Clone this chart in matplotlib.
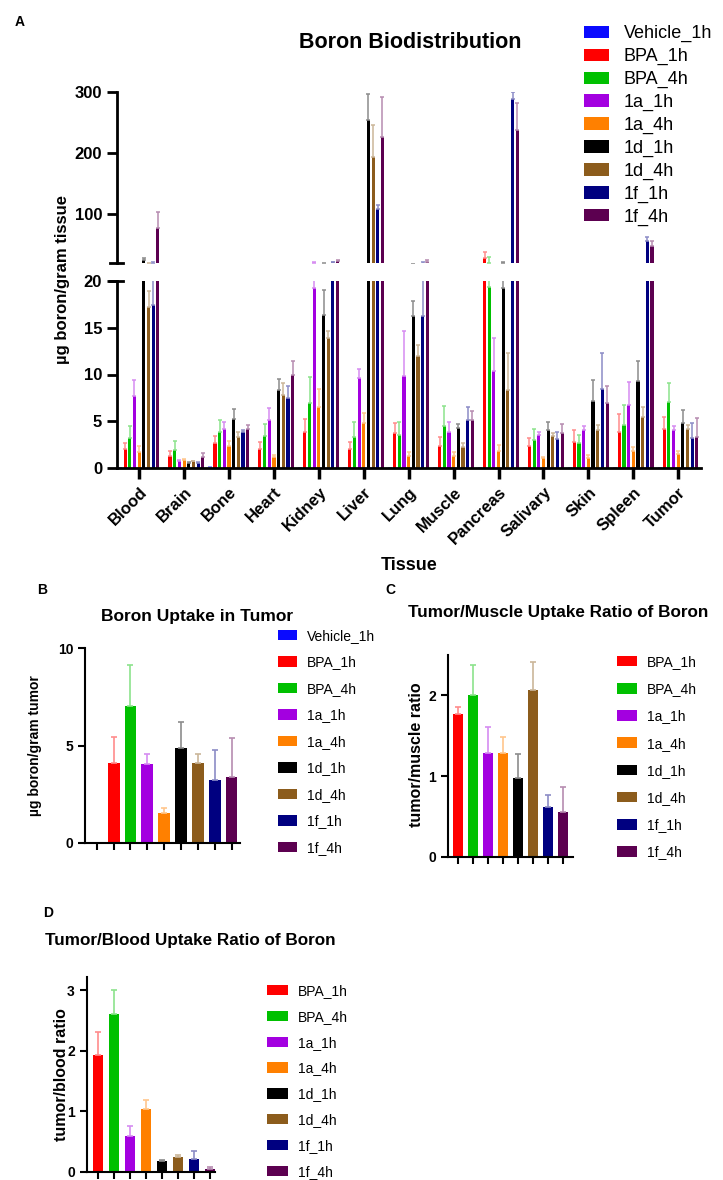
import matplotlib.pyplot as plt
from matplotlib.patches import Patch
from matplotlib.colors import to_rgba
import numpy as np

plt.rcParams['font.family'] = ['Liberation Sans', 'DejaVu Sans']

W, H = 723, 1180

tissues = ['Blood', 'Brain', 'Bone', 'Heart', 'Kidney', 'Liver', 'Lung',
           'Muscle', 'Pancreas', 'Salivary', 'Skin', 'Spleen', 'Tumor']
groups = ['Vehicle_1h', 'BPA_1h', 'BPA_4h', '1a_1h', '1a_4h',
          '1d_1h', '1d_4h', '1f_1h', '1f_4h']
colors = ['#0a0aff', '#ff0000', '#00c000', '#a300e0', '#ff8000',
          '#000000', '#8c5c1c', '#000080', '#5c0050']

# boron (ug/g tissue), one list per group, in tissue order
vehicle_1h = [0, 0, 0.15, 0, 0, 0, 0, 0, 0, 0, 0, 0, 0]
vehicle_1h_sd = [0] * 13
bpa_1h = [2.06, 1.25, 2.65, 2.0, 3.8, 2.0, 3.7, 2.4, 28, 2.4, 2.75, 3.85, 4.12]
bpa_1h_sd = [0.6, 0.55, 0.8, 0.8, 1.4, 0.8, 1.1, 0.9, 10, 0.8, 1.35, 1.9, 1.3]
bpa_4h = [3.2, 1.95, 3.8, 3.4, 6.9, 3.3, 3.55, 4.5, 19.4, 3.0, 2.65, 4.6, 7.04]
bpa_4h_sd = [1.24, 0.9, 1.35, 1.3, 2.8, 1.6, 1.35, 2.1, 10.6, 1.2, 0.9, 2.15, 2.07]
a1_1h = [7.74, 0.8, 4.2, 5.1, 19.2, 9.6, 9.8, 3.8, 10.4, 3.55, 4.1, 6.7, 4.04]
a1_1h_sd = [1.66, 0.1, 0.7, 1.3, 2.0, 1.0, 4.9, 1.1, 3.5, 0.35, 0.35, 2.5, 0.5]
a1_4h = [1.7, 0.9, 2.3, 1.2, 6.5, 4.8, 1.3, 1.3, 1.85, 1.05, 1.05, 1.8, 1.53]
a1_4h_sd = [0.6, 0.05, 0.55, 0.2, 1.9, 1.1, 0.4, 0.4, 0.65, 0.15, 0.35, 0.45, 0.29]
d1_1h = [25, 0.5, 5.2, 8.35, 16.4, 254, 16.3, 4.3, 19.2, 4.1, 7.2, 9.3, 4.86]
d1_1h_sd = [2.5, 0.1, 1.1, 1.15, 2.6, 43, 1.6, 0.4, 2.0, 0.8, 2.2, 2.1, 1.32]
d1_4h = [17.2, 0.7, 3.3, 7.8, 13.9, 194, 12.0, 2.2, 8.35, 3.4, 4.1, 5.5, 4.12]
d1_4h_sd = [1.7, 0.1, 0.6, 1.3, 0.8, 52, 1.2, 0.5, 3.95, 0.3, 0.5, 1.0, 0.43]
f1_1h = [17.4, 0.5, 3.9, 7.5, 21, 109, 16.3, 5.1, 288.5, 3.1, 8.5, 56, 3.24]
f1_1h_sd = [3.5, 0.1, 0.2, 1.3, 1.0, 6, 4.5, 1.4, 11, 0.7, 3.75, 6, 1.53]
f1_4h = [76.6, 1.2, 4.15, 9.9, 22.5, 227, 22, 5.15, 237.7, 3.7, 6.9, 48, 3.36]
f1_4h_sd = [27, 0.4, 0.45, 1.5, 2.5, 65, 3, 0.95, 45, 1.0, 1.9, 7, 2.01]

means = [vehicle_1h, bpa_1h, bpa_4h, a1_1h, a1_4h, d1_1h, d1_4h, f1_1h, f1_4h]
sds = [vehicle_1h_sd, bpa_1h_sd, bpa_4h_sd, a1_1h_sd, a1_4h_sd,
       d1_1h_sd, d1_4h_sd, f1_1h_sd, f1_4h_sd]

# ratios (no vehicle group)
muscle_ratio = [1.77, 2.01, 1.28, 1.29, 0.97, 2.06, 0.62, 0.55]
muscle_ratio_sd = [0.09, 0.37, 0.33, 0.19, 0.30, 0.35, 0.15, 0.31]
blood_ratio = [1.93, 2.60, 0.59, 1.03, 0.18, 0.25, 0.21, 0.04]
blood_ratio_sd = [0.38, 0.40, 0.16, 0.16, 0.02, 0.03, 0.13, 0.03]


def light(c, f=0.55):
    r, g, b, _ = to_rgba(c)
    return (r + (1 - r) * f, g + (1 - g) * f, b + (1 - b) * f)


def rect(x0, y0, x1, y1):
    # pixel box (top-left origin) -> figure fraction
    return [x0 / W, 1 - y1 / H, (x1 - x0) / W, (y1 - y0) / H]


def ftext(x, y, s, **kw):
    fig.text(x / W, 1 - y / H, s, **kw)


def style_small(ax, n):
    for s in ('top', 'right'):
        ax.spines[s].set_visible(False)
    for s in ('left', 'bottom'):
        ax.spines[s].set_linewidth(1.5)
    ax.set_xticks(np.arange(n))
    ax.set_xticklabels([])
    ax.tick_params(axis='both', width=1.5, length=5, labelsize=10)
    for lab in ax.get_yticklabels():
        lab.set_fontweight('bold')


fig = plt.figure(figsize=(W / 100, H / 100), dpi=100)

# ---------------- A: broken axis ----------------
ax_top = fig.add_axes(rect(116.7, 92, 700.7, 262.8))
ax_bot = fig.add_axes(rect(116.7, 281, 700.7, 468))

x = np.arange(len(tissues))
slot = 0.104
for ax in (ax_top, ax_bot):
    for k, col in enumerate(colors):
        pos = x + (k - 4) * slot
        ax.bar(pos, means[k], width=0.07, color=col)
        ax.errorbar(pos, means[k], yerr=[np.zeros(len(tissues)), sds[k]],
                    fmt='none', ecolor=light(col), elinewidth=1.1,
                    capsize=1.2, capthick=1.1)
    ax.set_xlim(-0.5, 12.5)
    for s in ('top', 'right'):
        ax.spines[s].set_visible(False)
    ax.spines['left'].set_linewidth(2)
    ax.spines['bottom'].set_linewidth(2)
    ax.tick_params(axis='both', width=2, length=7, labelsize=12)

ax_top.set_ylim(20, 300)
ax_top.set_yticks([100, 200, 300])
ax_top.spines['bottom'].set_visible(False)
ax_top.set_xticks([])
ax_top.plot([-0.011, 0.011], [0, 0], color='black', lw=2,
            transform=ax_top.transAxes, clip_on=False)

ax_bot.set_ylim(0, 20)
ax_bot.set_yticks([0, 5, 10, 15, 20])
ax_bot.set_xticks(x)
ax_bot.set_xticklabels(tissues, rotation=45, ha='right',
                       rotation_mode='anchor')
ax_bot.tick_params(axis='x', length=8, width=2.5, pad=4)
ax_bot.plot([-0.011, 0.011], [1, 1], color='black', lw=2,
            transform=ax_bot.transAxes, clip_on=False)
for ax in (ax_top, ax_bot):
    for lab in ax.get_xticklabels() + ax.get_yticklabels():
        lab.set_fontweight('bold')

ftext(20, 22, 'A', fontsize=10, fontweight='bold', ha='center', va='center')
ftext(410, 43, 'Boron Biodistribution', fontsize=15.5, fontweight='bold',
      ha='center', va='center')
ftext(62, 280, 'µg boron/gram tissue', fontsize=12, fontweight='bold',
      rotation=90, ha='center', va='center')
ftext(408.7, 565, 'Tissue', fontsize=13, fontweight='bold',
      ha='center', va='center')

handles = [Patch(facecolor=c) for c in colors]
fig.legend(handles, groups, loc='upper left',
           bbox_to_anchor=(584 / W, 1 - 25 / H), frameon=False,
           fontsize=13, handlelength=1.38, handleheight=0.66,
           handletextpad=0.83, labelspacing=0.32, borderpad=0,
           borderaxespad=0)

# ---------------- B: tumor uptake ----------------
ax_b = fig.add_axes(rect(85, 648, 240, 843))
tumor = [m[-1] for m in means]
tumor_sd = [s[-1] for s in sds]
xb = np.arange(len(groups))
ax_b.bar(xb, tumor, width=0.7, color=colors)
for k, col in enumerate(colors):
    ax_b.errorbar(xb[k], tumor[k], yerr=[[0], [tumor_sd[k]]], fmt='none',
                  ecolor=light(col), elinewidth=1.2, capsize=2.5, capthick=1.2)
ax_b.set_xlim(-0.7, 8.5)
ax_b.set_ylim(0, 10)
ax_b.set_yticks([0, 5, 10])
style_small(ax_b, len(groups))

ftext(42, 590, 'B', fontsize=10, fontweight='bold', ha='center', va='center')
ftext(196.7, 616.7, 'Boron Uptake in Tumor', fontsize=12.5,
      fontweight='bold', ha='center', va='center')
ftext(35, 746, 'µg boron/gram tumor', fontsize=10, fontweight='bold',
      rotation=90, ha='center', va='center')
fig.legend(handles, groups, loc='upper left',
           bbox_to_anchor=(278 / W, 1 - 629 / H), frameon=False,
           fontsize=10, handlelength=1.37, handleheight=0.79,
           handletextpad=0.72, labelspacing=0.9, borderpad=0,
           borderaxespad=0)

# ---------------- C: tumor/muscle ----------------
ax_c = fig.add_axes(rect(448, 655, 573, 856.7))
xc = np.arange(len(muscle_ratio))
ax_c.bar(xc, muscle_ratio, width=0.67, color=colors[1:])
for k, col in enumerate(colors[1:]):
    ax_c.errorbar(xc[k], muscle_ratio[k], yerr=[[0], [muscle_ratio_sd[k]]],
                  fmt='none', ecolor=light(col), elinewidth=1.2,
                  capsize=2.5, capthick=1.2)
ax_c.set_xlim(-0.69, 7.65)
ax_c.set_ylim(0, 2.5)
ax_c.set_yticks([0, 1, 2])
style_small(ax_c, len(muscle_ratio))

ftext(390, 590, 'C', fontsize=10, fontweight='bold', ha='center', va='center')
ftext(558.5, 612, 'Tumor/Muscle Uptake Ratio of Boron', fontsize=12.3,
      fontweight='bold', ha='center', va='center')
ftext(417, 755, 'tumor/muscle ratio', fontsize=11.5, fontweight='bold',
      rotation=90, ha='center', va='center')
fig.legend(handles[1:], groups[1:], loc='upper left',
           bbox_to_anchor=(617 / W, 1 - 655 / H), frameon=False,
           fontsize=10, handlelength=1.44, handleheight=0.79,
           handletextpad=0.74, labelspacing=0.95, borderpad=0,
           borderaxespad=0)

# ---------------- D: tumor/blood ----------------
ax_d = fig.add_axes(rect(86.7, 976.7, 215, 1171.7))
xd = np.arange(len(blood_ratio))
ax_d.bar(xd, blood_ratio, width=0.63, color=colors[1:])
for k, col in enumerate(colors[1:]):
    ax_d.errorbar(xd[k], blood_ratio[k], yerr=[[0], [blood_ratio_sd[k]]],
                  fmt='none', ecolor=light(col), elinewidth=1.2,
                  capsize=2.5, capthick=1.2)
ax_d.set_xlim(-0.73, 7.3)
ax_d.set_ylim(0, 3.22)
ax_d.set_yticks([0, 1, 2, 3])
style_small(ax_d, len(blood_ratio))

ftext(48, 913, 'D', fontsize=10, fontweight='bold', ha='center', va='center')
ftext(45, 940, 'Tumor/Blood Uptake Ratio of Boron', fontsize=12.3,
      fontweight='bold', ha='left', va='center')
ftext(61.7, 1075, 'tumor/blood ratio', fontsize=11.5, fontweight='bold',
      rotation=90, ha='center', va='center')
fig.legend(handles[1:], groups[1:], loc='upper left',
           bbox_to_anchor=(267 / W, 1 - 984 / H), frameon=False,
           fontsize=10, handlelength=1.5, handleheight=0.79,
           handletextpad=0.72, labelspacing=0.85, borderpad=0,
           borderaxespad=0)

fig.savefig('out.png', dpi=100)
